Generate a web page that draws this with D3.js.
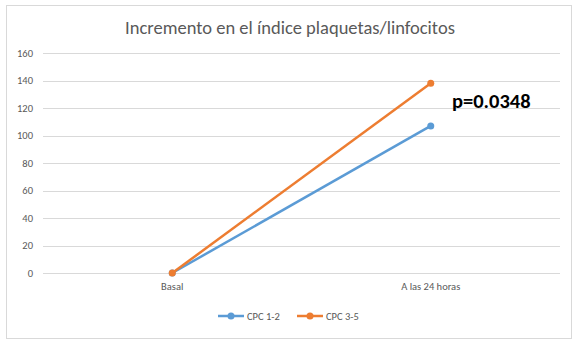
<!DOCTYPE html>
<html lang="es">
<head>
<meta charset="utf-8">
<title>Incremento en el índice plaquetas/linfocitos</title>
<script src="https://d3js.org/d3.v7.min.js"></script>
<style>
  body { margin: 0; background: #fff; }
  .axis text { font-family: Calibri, Carlito, "Open Sans", sans-serif; font-size: 10.5px; fill: #595959; }
  .title { font-family: Calibri, Carlito, "Open Sans", sans-serif; font-size: 18.5px; fill: #595959; }
  .legend text { font-family: Calibri, Carlito, "Open Sans", sans-serif; font-size: 10.5px; fill: #595959; }
  .note { font-family: Calibri, Carlito, "Liberation Sans", sans-serif; font-size: 20.5px; font-weight: bold; fill: #000; }
</style>
</head>
<body>
<div id="chart"></div>
<script>
// data
const categories = ["Basal", "A las 24 horas"];
const cpc12 = [0, 107];
const cpc35 = [0, 138];
const yTicks = [0, 20, 40, 60, 80, 100, 120, 140, 160];
const seriesNames = ["CPC 1-2", "CPC 3-5"];
const colors = ["#5b9bd5", "#ed7d31"];

const W = 578, H = 344;
const margin = { top: 53, right: 18, bottom: 71, left: 43 };
const width = W - margin.left - margin.right;
const height = H - margin.top - margin.bottom;

const svg = d3.select("#chart").append("svg")
  .attr("width", W).attr("height", H);

// chart border
svg.append("rect")
  .attr("x", 6.5).attr("y", 5.5)
  .attr("width", 565).attr("height", 333)
  .attr("fill", "#fff").attr("stroke", "#d9d9d9").attr("stroke-width", 1);

svg.append("text").attr("class", "title")
  .attr("x", 290).attr("y", 34)
  .attr("text-anchor", "middle")
  .text("Incremento en el índice plaquetas/linfocitos");

const g = svg.append("g").attr("transform", `translate(${margin.left},${margin.top})`);

const x = d3.scaleBand().domain(categories).range([0, width]);
const y = d3.scaleLinear().domain([0, 160]).range([height, 0]);

// gridlines
g.selectAll(".grid").data(yTicks).enter().append("line")
  .attr("x1", 0).attr("x2", width)
  .attr("y1", d => Math.round(y(d)) + 0.5).attr("y2", d => Math.round(y(d)) + 0.5)
  .attr("stroke", "#d9d9d9").attr("stroke-width", 1);

// y axis
const yAxis = g.append("g").attr("class", "axis")
  .call(d3.axisLeft(y).tickValues(yTicks).tickSize(0).tickPadding(10));
yAxis.select(".domain").remove();

// x axis
const xAxis = g.append("g").attr("class", "axis")
  .attr("transform", `translate(0,${height})`)
  .call(d3.axisBottom(x).tickSize(0).tickPadding(10));
xAxis.select(".domain").remove();

// lines
const allSeries = [cpc12, cpc35];
const line = d3.line()
  .x((d, i) => x(categories[i]) + x.bandwidth() / 2)
  .y(d => y(d));

allSeries.forEach((s, k) => {
  g.append("path").datum(s)
    .attr("fill", "none")
    .attr("stroke", colors[k])
    .attr("stroke-width", 2.5)
    .attr("d", line);
  g.selectAll(".pt" + k).data(s).enter().append("circle")
    .attr("cx", (d, i) => x(categories[i]) + x.bandwidth() / 2)
    .attr("cy", d => y(d))
    .attr("r", 3.5)
    .attr("fill", colors[k]);
});

// p-value annotation
svg.append("text").attr("class", "note")
  .attr("x", 452).attr("y", 108)
  .text("p=0.0348");

// legend
const legend = svg.append("g").attr("class", "legend")
  .attr("transform", "translate(218,316)");
seriesNames.forEach((name, k) => {
  const lg = legend.append("g").attr("transform", `translate(${k * 79},0)`);
  lg.append("line").attr("x1", 0).attr("x2", 26).attr("y1", 0).attr("y2", 0)
    .attr("stroke", colors[k]).attr("stroke-width", 2.5);
  lg.append("circle").attr("cx", 13).attr("cy", 0).attr("r", 3.5).attr("fill", colors[k]);
  lg.append("text").attr("x", 29).attr("y", 4).text(name);
});
</script>
</body>
</html>
